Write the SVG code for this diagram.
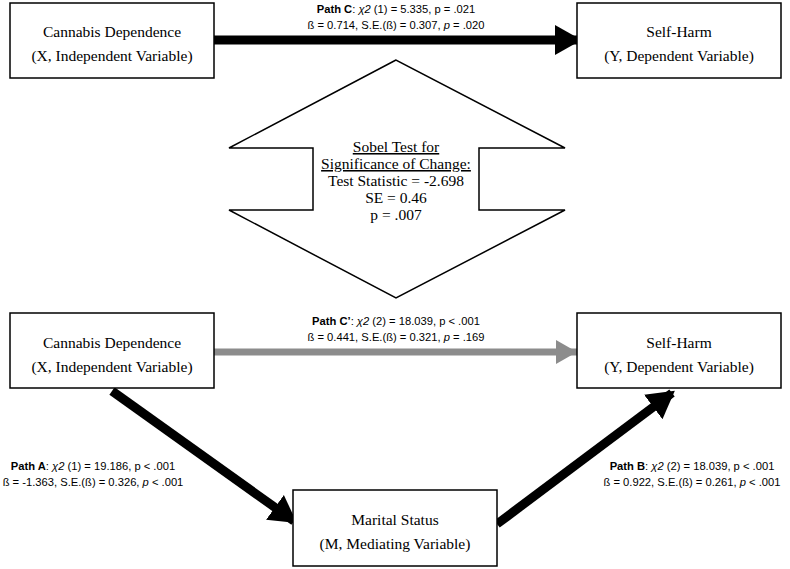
<svg xmlns="http://www.w3.org/2000/svg" width="790" height="569" viewBox="0 0 790 569">
<style>
.box{fill:#fff;stroke:#000;stroke-width:1.5}
.t{font-family:"Liberation Serif",serif;font-size:15.5px;text-anchor:middle}
.l{font-family:"Liberation Sans",sans-serif;font-size:11.2px;text-anchor:middle}
.u{text-decoration:underline}
</style>
<defs>
<marker id="ab" markerWidth="4" markerHeight="4" refX="2.6" refY="2" orient="auto" markerUnits="strokeWidth"><path d="M0,0.3 L3,2 L0,3.7Z" fill="#000"/></marker>
<marker id="ag" markerWidth="4" markerHeight="4" refX="3" refY="2" orient="auto" markerUnits="strokeWidth"><path d="M0,0.3 L3,2 L0,3.7Z" fill="#8c8c8c"/></marker>
</defs>
<g id="connectors">
<line x1="214" y1="40" x2="578" y2="40" stroke="#000" stroke-width="9" marker-end="url(#ab)"/>
<line x1="214" y1="352" x2="577" y2="352" stroke="#8c8c8c" stroke-width="7" marker-end="url(#ag)"/>
<line x1="112" y1="391" x2="294" y2="521" stroke="#000" stroke-width="9" marker-end="url(#ab)"/>
<line x1="497" y1="524" x2="672" y2="393" stroke="#000" stroke-width="9" marker-end="url(#ab)"/>
<text class="l" x="396" y="13"><tspan font-weight="bold">Path C</tspan>: <tspan font-style="italic">χ2</tspan> (1) = 5.335, p = .021</text>
<text class="l" x="396" y="29">ß = 0.714, S.E.(ß) = 0.307, <tspan font-style="italic">p</tspan> = .020</text>
<text class="l" x="396" y="325"><tspan font-weight="bold">Path C’</tspan>: <tspan font-style="italic">χ2</tspan> (2) = 18.039, p &lt; .001</text>
<text class="l" x="396" y="341">ß = 0.441, S.E.(ß) = 0.321, <tspan font-style="italic">p</tspan> = .169</text>
<text class="l" x="93" y="470"><tspan font-weight="bold">Path A</tspan>: <tspan font-style="italic">χ2</tspan> (1) = 19.186, p &lt; .001</text>
<text class="l" x="93" y="486">ß = -1.363, S.E.(ß) = 0.326, <tspan font-style="italic">p</tspan> &lt; .001</text>
<text class="l" x="692" y="470"><tspan font-weight="bold">Path B</tspan>: <tspan font-style="italic">χ2</tspan> (2) = 18.039, p &lt; .001</text>
<text class="l" x="692" y="486">ß = 0.922, S.E.(ß) = 0.261, <tspan font-style="italic">p</tspan> &lt; .001</text>
</g>
<g id="x1"><rect class="box" x="10" y="3" width="204" height="75"/><text class="t" x="112" y="37">Cannabis Dependence</text><text class="t" x="112" y="61">(X, Independent Variable)</text></g>
<g id="y1"><rect class="box" x="577" y="3" width="204" height="75"/><text class="t" x="679" y="37">Self-Harm</text><text class="t" x="679" y="61">(Y, Dependent Variable)</text></g>
<g id="sobel"><path class="box" d="M396,60 L229,148 L313,148 L313,210 L229,210 L396,298 L565,210 L479,210 L479,148 L565,148 Z"/>
<text class="t" x="396" y="152" font-size="14"><tspan class="u">Sobel Test for</tspan></text>
<text class="t" x="396" y="169" font-size="14"><tspan class="u">Significance of Change:</tspan></text>
<text class="t" x="396" y="186" font-size="14">Test Statistic = -2.698</text>
<text class="t" x="396" y="203" font-size="14">SE = 0.46</text>
<text class="t" x="396" y="220" font-size="14">p = .007</text></g>
<g id="x2"><rect class="box" x="10" y="313" width="204" height="75"/><text class="t" x="112" y="348">Cannabis Dependence</text><text class="t" x="112" y="372">(X, Independent Variable)</text></g>
<g id="y2"><rect class="box" x="577" y="313" width="204" height="75"/><text class="t" x="679" y="348">Self-Harm</text><text class="t" x="679" y="372">(Y, Dependent Variable)</text></g>
<g id="m"><rect class="box" x="293" y="490" width="204" height="76"/><text class="t" x="395" y="525">Marital Status</text><text class="t" x="395" y="549">(M, Mediating Variable)</text></g>
</svg>
